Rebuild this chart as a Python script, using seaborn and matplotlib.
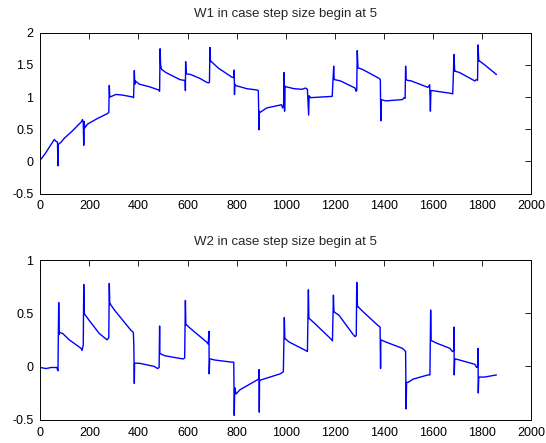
import pandas as pd
import matplotlib
matplotlib.use("Agg")
import matplotlib.pyplot as plt
import seaborn as sns

# W1 trace (iteration, value)
w1_x = [0, 20, 40, 57, 64, 70, 72, 73, 85, 98, 130, 166, 172, 175, 177, 179, 181, 193,
        230, 272, 279, 281, 283, 290, 308, 335, 376, 380, 383, 385, 387, 403, 444, 482,
        486, 488, 490, 494, 505, 512, 569, 585, 590, 591, 592, 594, 596, 612, 650, 677,
        685, 689, 691, 693, 694, 725, 780, 788, 790, 791, 792, 794, 841, 881, 888, 891,
        892, 895, 922, 983, 987, 991, 993, 995, 997, 1000, 1033, 1067, 1080, 1088, 1093,
        1095, 1101, 1142, 1189, 1195, 1197, 1199, 1223, 1282, 1286, 1289, 1291, 1294,
        1298, 1312, 1380, 1385, 1387, 1388, 1407, 1475, 1482, 1486, 1488, 1490, 1495,
        1511, 1579, 1586, 1589, 1591, 1596, 1613, 1668, 1680, 1685, 1688, 1691, 1708,
        1770, 1776, 1781, 1783, 1786, 1789, 1810, 1858]
w1_y = [0.02, 0.12, 0.24, 0.34, 0.31, 0.30, -0.07, 0.26, 0.30, 0.36, 0.47, 0.61, 0.65,
        0.60, 0.25, 0.62, 0.52, 0.58, 0.66, 0.74, 0.76, 1.18, 1.00, 1.01, 1.04, 1.03,
        1.00, 0.99, 1.41, 1.20, 1.25, 1.20, 1.16, 1.11, 1.09, 1.75, 1.50, 1.43, 1.40,
        1.38, 1.27, 1.26, 1.26, 1.10, 1.55, 1.38, 1.36, 1.35, 1.29, 1.23, 1.22, 1.23,
        1.77, 1.55, 1.56, 1.45, 1.31, 1.30, 1.42, 1.04, 1.20, 1.18, 1.13, 1.11, 1.10,
        0.49, 0.78, 0.76, 0.83, 0.88, 0.83, 0.86, 1.38, 0.78, 1.17, 1.16, 1.13, 1.12,
        1.14, 1.12, 0.72, 1.02, 0.99, 1.00, 1.01, 1.48, 1.27, 1.27, 1.25, 1.14, 1.09,
        1.10, 1.72, 1.45, 1.45, 1.43, 1.29, 1.27, 0.63, 0.96, 0.94, 0.96, 0.99, 0.98,
        1.48, 1.27, 1.26, 1.25, 1.15, 1.19, 0.78, 1.10, 1.10, 1.09, 1.06, 1.05, 1.66,
        1.40, 1.40, 1.38, 1.25, 1.27, 1.26, 1.81, 1.56, 1.56, 1.50, 1.35]

# W2 trace
w2_x = [0, 23, 45, 67, 72, 75, 77, 78, 91, 118, 166, 170, 175, 177, 179, 181, 200, 240,
        272, 276, 279, 281, 283, 284, 302, 369, 379, 381, 383, 384, 403, 464, 478, 484,
        486, 487, 488, 508, 582, 588, 591, 593, 596, 610, 677, 684, 687, 688, 690, 694,
        711, 780, 788, 790, 792, 797, 813, 881, 889, 891, 892, 893, 895, 922, 977, 990,
        994, 996, 998, 1013, 1081, 1088, 1092, 1094, 1096, 1115, 1183, 1190, 1194, 1196,
        1198, 1217, 1271, 1282, 1287, 1289, 1292, 1295, 1312, 1373, 1384, 1386, 1387,
        1407, 1475, 1484, 1488, 1490, 1492, 1498, 1518, 1579, 1587, 1590, 1592, 1596,
        1613, 1668, 1679, 1684, 1685, 1686, 1688, 1691, 1708, 1770, 1777, 1781, 1783,
        1784, 1786, 1789, 1810, 1858]
w2_y = [-0.01, -0.02, -0.01, -0.01, -0.04, 0.60, 0.30, 0.32, 0.31, 0.25, 0.17, 0.15,
        0.20, 0.77, 0.50, 0.49, 0.43, 0.31, 0.25, 0.26, 0.27, 0.78, 0.58, 0.59, 0.53,
        0.34, 0.32, 0.20, -0.16, 0.03, 0.03, 0.00, -0.02, -0.01, 0.38, 0.12, 0.12, 0.10,
        0.07, 0.08, 0.62, 0.39, 0.39, 0.36, 0.23, 0.21, 0.33, -0.07, 0.07, 0.07, 0.06,
        0.04, 0.04, -0.46, -0.20, -0.26, -0.22, -0.13, -0.12, -0.03, -0.43, -0.13,
        -0.13, -0.11, -0.07, -0.05, 0.46, 0.26, 0.26, 0.23, 0.15, 0.14, 0.72, 0.45,
        0.45, 0.41, 0.26, 0.24, 0.67, 0.51, 0.51, 0.48, 0.31, 0.28, 0.29, 0.79, 0.56,
        0.56, 0.52, 0.39, 0.37, -0.02, 0.25, 0.23, 0.17, 0.15, 0.14, -0.40, -0.15,
        -0.15, -0.12, -0.08, -0.08, 0.53, 0.24, 0.24, 0.22, 0.17, 0.14, 0.15, 0.37,
        -0.08, 0.07, 0.07, 0.06, 0.02, -0.01, 0.00, 0.17, -0.25, -0.10, -0.10, -0.10,
        -0.08]

x_ticks = [0, 200, 400, 600, 800, 1000, 1200, 1400, 1600, 1800, 2000]
w1_yticks = [-0.5, 0, 0.5, 1, 1.5, 2]
w1_ylabels = ["-0.5", "0", "0.5", "1", "1.5", "2"]
w2_yticks = [-0.5, 0, 0.5, 1]
w2_ylabels = ["-0.5", "0", "0.5", "1"]

sns.set_style("white")
plt.rcParams['font.family'] = ['Liberation Sans', 'DejaVu Sans']
plt.rcParams['font.size'] = 9

fig = plt.figure(figsize=(5.46, 4.43), dpi=100)
ax1 = fig.add_axes([0.0738, 0.5632, 0.8993, 0.3630])
ax2 = fig.add_axes([0.0738, 0.0528, 0.8993, 0.3602])

panels = [
    (ax1, w1_x, w1_y, w1_yticks, w1_ylabels, "W1 in case step size begin at 5"),
    (ax2, w2_x, w2_y, w2_yticks, w2_ylabels, "W2 in case step size begin at 5"),
]

for ax, xs, ys, yt, yl, title in panels:
    df = pd.DataFrame({"k": xs, "w": ys})
    sns.lineplot(data=df, x="k", y="w", ax=ax, sort=False, estimator=None,
                 color=(0, 0, 1), linewidth=1.0)
    ax.set_xlim(0, 2000)
    ax.set_ylim(yt[0], yt[-1])
    ax.set_xticks(x_ticks)
    ax.set_xticklabels([str(t) for t in x_ticks])
    ax.set_yticks(yt)
    ax.set_yticklabels(yl)
    ax.set_xlabel("")
    ax.set_ylabel("")
    ax.set_title(title, fontsize=9.5, pad=11)
    ax.tick_params(direction="in", length=4, width=0.6, top=True, right=True,
                   labelsize=9, colors="black", pad=5)
    for s in ax.spines.values():
        s.set_color("black")
        s.set_linewidth(0.7)

fig.savefig("out.png", dpi=100, facecolor="white")
